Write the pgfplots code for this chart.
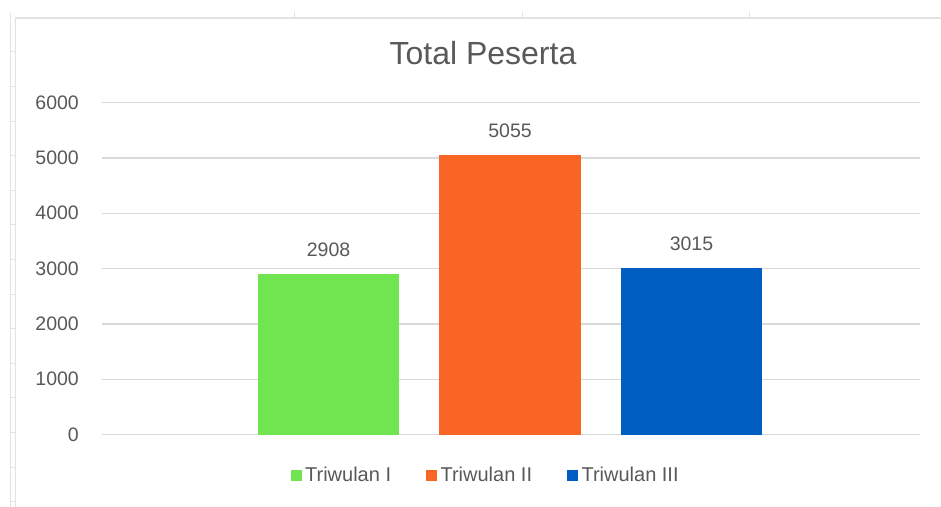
\documentclass[border=0pt]{standalone}
\usepackage{fontspec}
\setmainfont{Liberation Sans}
\usepackage{pgfplots}
\pgfplotsset{compat=1.18}
\definecolor{cgreen}{HTML}{70E550}
\definecolor{corange}{HTML}{F96524}
\definecolor{cblue}{HTML}{005EC2}
\definecolor{tgray}{HTML}{595959}
\definecolor{ggray}{HTML}{D9D9D9}
\definecolor{sgray}{HTML}{E2E2E2}
\newcommand{\lblfont}{\fontsize{19.5bp}{21bp}\selectfont}
\begin{document}
\begin{tikzpicture}
\useasboundingbox (0,0) rectangle (941bp,507bp);
% spreadsheet frame
\draw[sgray, line width=1bp] (10bp,0) -- (10bp,494bp);
\draw[sgray, line width=1.5bp] (15.5bp,0) -- (15.5bp,489bp) -- (941bp,489bp);
\foreach \yy in {52,86.6,121.2,155.8,190.4,225,259.6,294.2,328.8,363.4,398,432.6,467.2,501.8}
  \draw[sgray, line width=1bp] (10bp,{(507-\yy)*1bp}) -- (15.5bp,{(507-\yy)*1bp});
\foreach \xx in {294,522,749}
  \draw[sgray, line width=1bp] (\xx bp,489bp) -- (\xx bp,495bp);
\node[anchor=base, font=\fontsize{32bp}{36bp}\selectfont, text=tgray, inner sep=0pt] at (483bp,442bp) {Total Peserta};
\begin{axis}[
  at={(102bp,72.4bp)}, anchor=south west,
  scale only axis, width=818bp, height=332bp,
  xmin=-2.248, xmax=2.259, ymin=0, ymax=6000,
  axis line style={draw=none},
  xtick=\empty,
  ytick={0,1000,2000,3000,4000,5000,6000},
  major tick length=0pt,
  ymajorgrids, grid style={ggray, line width=1.2bp},
  /pgf/number format/assume math mode=true,
  /pgf/number format/1000 sep={},
  scaled y ticks=false,
  yticklabel style={font=\lblfont, text=tgray, inner sep=0pt, xshift=-23bp},
  clip=false,
  legend style={at={(0.469,-0.122)}, anchor=center, draw=none, fill=none,
    font=\fontsize{20bp}{22bp}\selectfont, text=tgray, inner sep=0pt,
    /tikz/every odd column/.append style={column sep=1.5bp},
    /tikz/every even column/.append style={column sep=33bp}},
  legend columns=3,
  legend cell align=left,
  mybar/.style={ybar, bar width=0.782, bar shift=0pt, draw=none,
    nodes near coords,
    nodes near coords style={font=\lblfont, text=tgray, anchor=south, inner sep=0pt, yshift=17bp},
    legend image code/.code={\fill[##1] (0bp,-5.5bp) rectangle (11bp,5.5bp);}},
]
\addplot[mybar, fill=cgreen] coordinates {(-1,2908)};
\addlegendentry{Triwulan I}
\addplot[mybar, fill=corange] coordinates {(0,5055)};
\addlegendentry{Triwulan II}
\addplot[mybar, fill=cblue] coordinates {(1,3015)};
\addlegendentry{Triwulan III}
\end{axis}
\end{tikzpicture}
\end{document}
